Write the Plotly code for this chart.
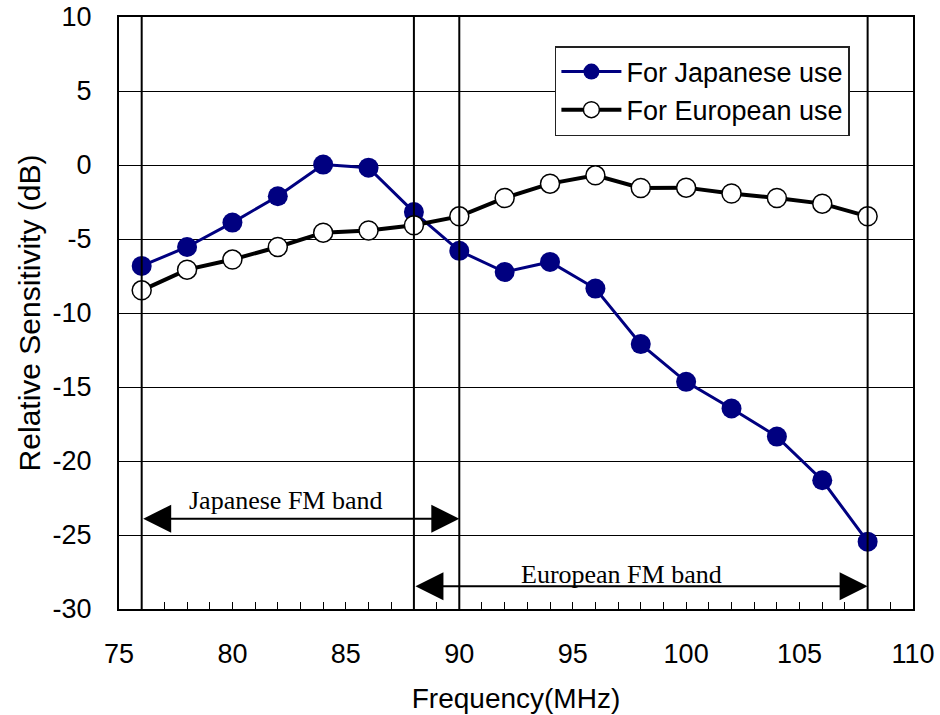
import plotly.graph_objects as go

# ---- data ----
freq = [76, 78, 80, 82, 84, 86, 88, 90, 92, 94, 96, 98, 100, 102, 104, 106, 108]
jp_sens = [-6.82, -5.54, -3.89, -2.11, 0.03, -0.18, -3.18, -5.8, -7.23, -6.55,
           -8.35, -12.1, -14.65, -16.45, -18.35, -21.3, -25.45]
eu_sens = [-8.47, -7.07, -6.39, -5.54, -4.57, -4.43, -4.07, -3.47, -2.23, -1.26,
           -0.70, -1.55, -1.53, -1.93, -2.23, -2.61, -3.47]
series_names = ["For Japanese use", "For European use"]

jp_band = [76, 90]
eu_band = [88, 108]
band_labels = ["Japanese FM band", "European FM band"]
band_arrow_y = [-23.9, -28.47]
band_text_x = [82.35, 97.15]
band_text_y = [-22.65, -27.65]

x_ticks = [75, 80, 85, 90, 95, 100, 105, 110]
y_ticks = [-30, -25, -20, -15, -10, -5, 0, 5, 10]

SANS = "Liberation Sans, Arial, sans-serif"
SERIF = "Liberation Serif, Times New Roman, serif"

fig = go.Figure()
fig.add_trace(go.Scatter(
    x=freq, y=jp_sens, mode="lines+markers", name=series_names[0],
    line=dict(color="#000080", width=3),
    marker=dict(size=20, color="#000080"),
))
fig.add_trace(go.Scatter(
    x=freq, y=eu_sens, mode="lines+markers", name=series_names[1],
    line=dict(color="black", width=4),
    marker=dict(size=19, color="white", line=dict(color="black", width=1.5)),
))

# vertical band-edge lines
for edge in sorted(set(jp_band + eu_band)):
    fig.add_shape(type="line", xref="x", yref="paper", x0=edge, x1=edge, y0=0, y1=1,
                  line=dict(color="black", width=2), layer="above")

# double-headed band arrows with labels
for band, label, ay, tx, ty in zip([jp_band, eu_band], band_labels, band_arrow_y,
                                   band_text_x, band_text_y):
    fig.add_annotation(
        x=band[1], y=ay, ax=band[0], ay=ay, xref="x", yref="y", axref="x", ayref="y",
        text="", showarrow=True, arrowside="end+start",
        arrowhead=2, startarrowhead=2, arrowsize=2.8, startarrowsize=2.8,
        arrowwidth=2, arrowcolor="black", standoff=0, startstandoff=0,
    )
    fig.add_annotation(
        x=tx, y=ty, xref="x", yref="y", text=label, showarrow=False,
        font=dict(family=SERIF, size=26, color="black"),
    )

fig.update_layout(
    width=940, height=715,
    margin=dict(l=119, r=27, t=17, b=106, autoexpand=False),
    paper_bgcolor="white", plot_bgcolor="white",
    showlegend=True,
    legend=dict(
        x=0.549, y=0.951, xanchor="left", yanchor="top",
        bgcolor="white", bordercolor="#222", borderwidth=1.5,
        font=dict(family=SANS, size=27, color="black"),
        itemwidth=60,
    ),
    xaxis=dict(
        range=[75, 110], tickvals=x_ticks, ticktext=[str(v) for v in x_ticks],
        showline=True, linecolor="black", linewidth=2, mirror=True,
        ticks="inside", ticklen=7, tickcolor="black", tickwidth=1,
        minor=dict(dtick=1, ticks="inside", ticklen=7, tickcolor="black", tickwidth=1),
        showgrid=False, zeroline=False, automargin=False,
        tickfont=dict(family=SANS, size=27, color="black"),
        ticklabelstandoff=20,
        title=dict(text="Frequency(MHz)", font=dict(family=SANS, size=28, color="black"),
                   standoff=20),
    ),
    yaxis=dict(
        range=[-30, 10], tickvals=y_ticks, ticktext=[str(v) for v in y_ticks],
        showline=True, linecolor="black", linewidth=2, mirror=True,
        ticks="", showgrid=True, gridcolor="black", gridwidth=1, zeroline=False,
        automargin=False,
        tickfont=dict(family=SANS, size=27, color="black"),
        ticklabelstandoff=20,
        title=dict(text="Relative Sensitivity (dB)",
                   font=dict(family=SANS, size=30, color="black"), standoff=3),
    ),
)

fig.write_html("out.html", config={"displayModeBar": False},
               post_script="document.body.style.margin='0';document.body.style.padding='0';")
